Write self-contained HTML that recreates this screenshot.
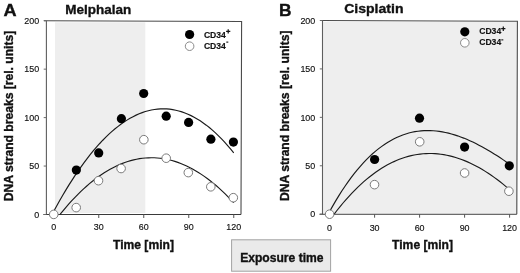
<!DOCTYPE html>
<html><head><meta charset="utf-8"><style>
html,body{margin:0;padding:0;background:#fff;}
svg{display:block;will-change:transform;}
text{font-family:"Liberation Sans",sans-serif;fill:#111;}
.tk{font-size:9.6px;stroke:#111;stroke-width:0.15px;}
.lg{font-size:8.6px;font-weight:bold;stroke:#111;stroke-width:0.15px;}
.sup{font-size:6px;}
.b{font-weight:bold;stroke:#111;stroke-width:0.35px;}
</style></head><body>
<svg width="520" height="273" viewBox="0 0 520 273">
<rect width="520" height="273" fill="#fff"/>
<text transform="translate(3.6,15.7) scale(1.1,1)" class="b" font-size="16.5">A</text>
<text transform="translate(279,15.9) scale(1.05,1)" class="b" font-size="16.5">B</text>
<text x="65.2" y="13.5" class="b" font-size="13.5">Melphalan</text>
<text transform="translate(344.2,13) scale(1.04,1)" class="b" font-size="13.5">Cisplatin</text>
<text transform="translate(13.3,201.2) rotate(-90)" class="b" font-size="12.12">DNA strand breaks [rel. units]</text>
<text transform="translate(288.8,201) rotate(-90)" class="b" font-size="12.12">DNA strand breaks [rel. units]</text>
<text x="113" y="248.9" class="b" font-size="12.1">Time [min]</text>
<text x="392.1" y="249.3" class="b" font-size="12.1">Time [min]</text>
<rect x="55" y="22.3" width="90.30000000000001" height="190.7" fill="#eeeeee"/>
<path d="M43.9,20.7 L241.6,21.45 L241.0,214.5" fill="none" stroke="#4a4a4a" stroke-width="1.1"/>
<path d="M46.4,20.7 V214.5" fill="none" stroke="#5e5e5e" stroke-width="1.1"/>
<path d="M43.4,214.5 H241.0" fill="none" stroke="#3a3a3a" stroke-width="1.1"/>
<path d="M43.699999999999996,214.50 H46.4" stroke="#6a6a6a" stroke-width="1"/>
<text transform="translate(39.2,217.70) scale(0.93,1)" class="tk" text-anchor="end">0</text>
<path d="M43.699999999999996,166.05 H46.4" stroke="#6a6a6a" stroke-width="1"/>
<text transform="translate(39.2,169.25) scale(0.93,1)" class="tk" text-anchor="end">50</text>
<path d="M43.699999999999996,117.60 H46.4" stroke="#6a6a6a" stroke-width="1"/>
<text transform="translate(39.2,120.80) scale(0.93,1)" class="tk" text-anchor="end">100</text>
<path d="M43.699999999999996,69.15 H46.4" stroke="#6a6a6a" stroke-width="1"/>
<text transform="translate(39.2,72.35) scale(0.93,1)" class="tk" text-anchor="end">150</text>
<path d="M43.699999999999996,20.70 H46.4" stroke="#6a6a6a" stroke-width="1"/>
<text transform="translate(39.2,23.90) scale(0.93,1)" class="tk" text-anchor="end">200</text>
<path d="M53.75,214.5 V218.0" stroke="#555" stroke-width="1"/>
<text transform="translate(53.75,230.15) scale(0.93,1)" class="tk" text-anchor="middle">0</text>
<path d="M98.75,214.5 V218.0" stroke="#555" stroke-width="1"/>
<text transform="translate(98.75,230.15) scale(0.93,1)" class="tk" text-anchor="middle">30</text>
<path d="M143.75,214.5 V218.0" stroke="#555" stroke-width="1"/>
<text transform="translate(143.75,230.15) scale(0.93,1)" class="tk" text-anchor="middle">60</text>
<path d="M188.75,214.5 V218.0" stroke="#555" stroke-width="1"/>
<text transform="translate(188.75,230.15) scale(0.93,1)" class="tk" text-anchor="middle">90</text>
<path d="M233.75,214.5 V218.0" stroke="#555" stroke-width="1"/>
<text transform="translate(233.75,230.15) scale(0.93,1)" class="tk" text-anchor="middle">120</text>
<path d="M53.75,211.28 L56.80,205.70 L59.85,200.26 L62.90,194.98 L65.95,189.86 L69.00,184.89 L72.06,180.07 L75.11,175.41 L78.16,170.91 L81.21,166.56 L84.26,162.36 L87.31,158.33 L90.36,154.44 L93.41,150.72 L96.46,147.15 L99.51,143.74 L102.56,140.48 L105.61,137.38 L108.67,134.45 L111.72,131.66 L114.77,129.04 L117.82,126.58 L120.87,124.27 L123.92,122.12 L126.97,120.13 L130.02,118.31 L133.07,116.64 L136.12,115.13 L139.17,113.78 L142.22,112.59 L145.28,111.56 L148.33,110.70 L151.38,109.99 L154.43,109.45 L157.48,109.07 L160.53,108.85 L163.58,108.79 L166.63,108.90 L169.68,109.16 L172.73,109.59 L175.78,110.19 L178.83,110.95 L181.89,111.87 L184.94,112.95 L187.99,114.20 L191.04,115.62 L194.09,117.20 L197.14,118.94 L200.19,120.85 L203.24,122.93 L206.29,125.17 L209.34,127.57 L212.39,130.15 L215.44,132.89 L218.50,135.79 L221.55,138.87 L224.60,142.11 L227.65,145.52 L230.70,149.09 L233.75,152.84" fill="none" stroke="#1a1a1a" stroke-width="1.15"/>
<path d="M60.04,214.40 L62.98,210.79 L65.93,207.30 L68.87,203.92 L71.82,200.67 L74.76,197.54 L77.70,194.53 L80.65,191.64 L83.59,188.86 L86.54,186.21 L89.48,183.68 L92.43,181.26 L95.37,178.96 L98.31,176.78 L101.26,174.73 L104.20,172.78 L107.15,170.96 L110.09,169.26 L113.04,167.67 L115.98,166.20 L118.92,164.85 L121.87,163.62 L124.81,162.51 L127.76,161.51 L130.70,160.63 L133.65,159.87 L136.59,159.22 L139.53,158.69 L142.48,158.28 L145.42,157.99 L148.37,157.81 L151.31,157.74 L154.25,157.80 L157.20,157.97 L160.14,158.25 L163.09,158.66 L166.03,159.17 L168.98,159.81 L171.92,160.56 L174.86,161.42 L177.81,162.40 L180.75,163.50 L183.70,164.70 L186.64,166.03 L189.59,167.47 L192.53,169.02 L195.47,170.69 L198.42,172.47 L201.36,174.37 L204.31,176.38 L207.25,178.51 L210.20,180.74 L213.14,183.10 L216.08,185.56 L219.03,188.14 L221.97,190.83 L224.92,193.64 L227.86,196.56 L230.81,199.59 L233.75,202.73" fill="none" stroke="#1a1a1a" stroke-width="1.15"/>
<circle cx="53.75" cy="214.4" r="4.3" fill="#fff" stroke="#7a7a7a" stroke-width="1"/>
<circle cx="76.2" cy="207.6" r="4.3" fill="#fff" stroke="#7a7a7a" stroke-width="1"/>
<circle cx="98.5" cy="180.7" r="4.3" fill="#fff" stroke="#7a7a7a" stroke-width="1"/>
<circle cx="121.1" cy="168.5" r="4.3" fill="#fff" stroke="#7a7a7a" stroke-width="1"/>
<circle cx="143.85" cy="139.7" r="4.3" fill="#fff" stroke="#7a7a7a" stroke-width="1"/>
<circle cx="166.2" cy="158.2" r="4.3" fill="#fff" stroke="#7a7a7a" stroke-width="1"/>
<circle cx="188.3" cy="172.6" r="4.3" fill="#fff" stroke="#7a7a7a" stroke-width="1"/>
<circle cx="210.8" cy="186.8" r="4.3" fill="#fff" stroke="#7a7a7a" stroke-width="1"/>
<circle cx="233.3" cy="197.7" r="4.3" fill="#fff" stroke="#7a7a7a" stroke-width="1"/>
<circle cx="76.35" cy="170.1" r="4.6" fill="#000"/>
<circle cx="98.7" cy="152.9" r="4.6" fill="#000"/>
<circle cx="121.4" cy="118.7" r="4.6" fill="#000"/>
<circle cx="143.7" cy="93.5" r="4.6" fill="#000"/>
<circle cx="166.2" cy="116.2" r="4.6" fill="#000"/>
<circle cx="188.6" cy="122.4" r="4.6" fill="#000"/>
<circle cx="210.9" cy="139.2" r="4.6" fill="#000"/>
<circle cx="233.4" cy="142.1" r="4.6" fill="#000"/>
<circle cx="189.6" cy="34.5" r="4.6" fill="#000"/>
<circle cx="189.6" cy="46.2" r="4.3" fill="#fff" stroke="#8a8a8a" stroke-width="1"/>
<text x="203.9" y="37.5" class="lg">CD34</text>
<text x="203.9" y="49.1" class="lg">CD34</text>
<path d="M226.1,31.4 h4.2 M228.2,29.2 v4.4" stroke="#111" stroke-width="1.2"/>
<rect x="226.3" y="41.5" width="2" height="1.3" fill="#333"/>
<rect x="323.2" y="21.8" width="193.59999999999997" height="191.1" fill="#eeeeee"/>
<path d="M320.0,20.5 L517.4,21.25 L516.8,214.2" fill="none" stroke="#4a4a4a" stroke-width="1.1"/>
<path d="M322.5,20.5 V214.2" fill="none" stroke="#5e5e5e" stroke-width="1.1"/>
<path d="M319.5,214.2 H516.8" fill="none" stroke="#3a3a3a" stroke-width="1.1"/>
<path d="M319.8,214.20 H322.5" stroke="#6a6a6a" stroke-width="1"/>
<text transform="translate(315.3,217.40) scale(0.93,1)" class="tk" text-anchor="end">0</text>
<path d="M319.8,165.77 H322.5" stroke="#6a6a6a" stroke-width="1"/>
<text transform="translate(315.3,168.97) scale(0.93,1)" class="tk" text-anchor="end">50</text>
<path d="M319.8,117.35 H322.5" stroke="#6a6a6a" stroke-width="1"/>
<text transform="translate(315.3,120.55) scale(0.93,1)" class="tk" text-anchor="end">100</text>
<path d="M319.8,68.92 H322.5" stroke="#6a6a6a" stroke-width="1"/>
<text transform="translate(315.3,72.12) scale(0.93,1)" class="tk" text-anchor="end">150</text>
<path d="M319.8,20.50 H322.5" stroke="#6a6a6a" stroke-width="1"/>
<text transform="translate(315.3,23.70) scale(0.93,1)" class="tk" text-anchor="end">200</text>
<path d="M329.60,214.2 V217.7" stroke="#555" stroke-width="1"/>
<text transform="translate(329.60,231.05) scale(0.93,1)" class="tk" text-anchor="middle">0</text>
<path d="M374.60,214.2 V217.7" stroke="#555" stroke-width="1"/>
<text transform="translate(374.60,231.05) scale(0.93,1)" class="tk" text-anchor="middle">30</text>
<path d="M419.60,214.2 V217.7" stroke="#555" stroke-width="1"/>
<text transform="translate(419.60,231.05) scale(0.93,1)" class="tk" text-anchor="middle">60</text>
<path d="M464.60,214.2 V217.7" stroke="#555" stroke-width="1"/>
<text transform="translate(464.60,231.05) scale(0.93,1)" class="tk" text-anchor="middle">90</text>
<path d="M509.60,214.2 V217.7" stroke="#555" stroke-width="1"/>
<text transform="translate(509.60,231.05) scale(0.93,1)" class="tk" text-anchor="middle">120</text>
<path d="M329.60,211.59 L332.65,206.13 L335.69,200.89 L338.74,195.87 L341.79,191.06 L344.84,186.46 L347.88,182.07 L350.93,177.88 L353.98,173.90 L357.03,170.11 L360.07,166.52 L363.12,163.12 L366.17,159.91 L369.22,156.89 L372.26,154.05 L375.31,151.39 L378.36,148.90 L381.41,146.59 L384.45,144.45 L387.50,142.47 L390.55,140.66 L393.60,139.01 L396.64,137.52 L399.69,136.18 L402.74,134.99 L405.79,133.95 L408.83,133.05 L411.88,132.30 L414.93,131.68 L417.98,131.20 L421.02,130.85 L424.07,130.64 L427.12,130.54 L430.17,130.57 L433.21,130.72 L436.26,130.98 L439.31,131.36 L442.36,131.85 L445.40,132.45 L448.45,133.15 L451.50,133.95 L454.55,134.84 L457.59,135.83 L460.64,136.92 L463.69,138.09 L466.74,139.34 L469.78,140.68 L472.83,142.09 L475.88,143.58 L478.93,145.15 L481.97,146.78 L485.02,148.47 L488.07,150.23 L491.12,152.05 L494.16,153.93 L497.21,155.86 L500.26,157.84 L503.31,159.86 L506.35,161.93 L509.40,164.05" fill="none" stroke="#1a1a1a" stroke-width="1.15"/>
<path d="M334.16,214.10 L337.13,210.27 L340.09,206.57 L343.05,203.00 L346.02,199.57 L348.98,196.26 L351.94,193.09 L354.91,190.05 L357.87,187.13 L360.83,184.34 L363.80,181.68 L366.76,179.15 L369.72,176.73 L372.69,174.45 L375.65,172.29 L378.61,170.25 L381.58,168.33 L384.54,166.53 L387.50,164.85 L390.47,163.29 L393.43,161.85 L396.39,160.53 L399.36,159.33 L402.32,158.24 L405.28,157.26 L408.25,156.40 L411.21,155.65 L414.17,155.02 L417.14,154.50 L420.10,154.09 L423.06,153.78 L426.03,153.59 L428.99,153.51 L431.95,153.53 L434.92,153.66 L437.88,153.89 L440.84,154.24 L443.81,154.68 L446.77,155.23 L449.73,155.88 L452.70,156.63 L455.66,157.48 L458.62,158.44 L461.59,159.49 L464.55,160.64 L467.51,161.89 L470.48,163.23 L473.44,164.67 L476.40,166.21 L479.37,167.84 L482.33,169.56 L485.29,171.37 L488.26,173.28 L491.22,175.28 L494.18,177.36 L497.15,179.54 L500.11,181.80 L503.07,184.16 L506.04,186.59 L509.00,189.12" fill="none" stroke="#1a1a1a" stroke-width="1.15"/>
<circle cx="329.6" cy="214.2" r="4.3" fill="#fff" stroke="#7a7a7a" stroke-width="1"/>
<circle cx="374.5" cy="184.65" r="4.3" fill="#fff" stroke="#7a7a7a" stroke-width="1"/>
<circle cx="419.7" cy="141.8" r="4.3" fill="#fff" stroke="#7a7a7a" stroke-width="1"/>
<circle cx="464.6" cy="173" r="4.3" fill="#fff" stroke="#7a7a7a" stroke-width="1"/>
<circle cx="508.9" cy="191.2" r="4.3" fill="#fff" stroke="#7a7a7a" stroke-width="1"/>
<circle cx="374.6" cy="159.5" r="4.6" fill="#000"/>
<circle cx="419.5" cy="118.2" r="4.6" fill="#000"/>
<circle cx="464.6" cy="147.1" r="4.6" fill="#000"/>
<circle cx="509.3" cy="165.8" r="4.6" fill="#000"/>
<circle cx="464.8" cy="31.8" r="4.6" fill="#000"/>
<circle cx="464.8" cy="42.8" r="4.3" fill="#fff" stroke="#8a8a8a" stroke-width="1"/>
<text x="479.2" y="34.1" class="lg">CD34</text>
<text x="479.2" y="45.3" class="lg">CD34</text>
<path d="M501.2,28.7 h4.2 M503.3,26.5 v4.4" stroke="#111" stroke-width="1.2"/>
<rect x="501.3" y="39.2" width="2" height="1.3" fill="#333"/>
<rect x="231.6" y="239.8" width="99" height="31.4" fill="#eaeaea" stroke="#a2a2a2" stroke-width="1"/>
<text x="240.2" y="261.7" class="b" font-size="12.1">Exposure time</text>
</svg>
</body></html>
